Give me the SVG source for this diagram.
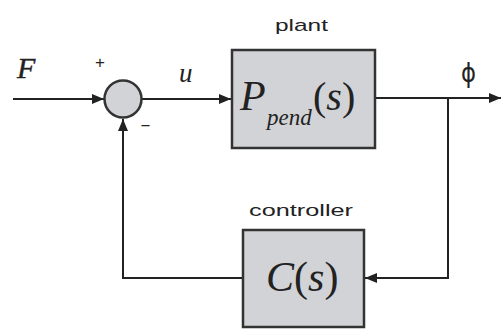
<svg xmlns="http://www.w3.org/2000/svg" width="501" height="329" viewBox="0 0 501 329">
<defs>
<style>
.blk{fill:#d2d3d6;stroke:#333;stroke-width:2.5}
.ln{fill:none;stroke:#222;stroke-width:2}
.lab{font-family:"Liberation Sans",Arial,sans-serif;font-size:17px;fill:#222}
.math{font-family:"Liberation Serif","Times New Roman",serif;font-style:italic;fill:#222}
.up{font-style:normal}
</style>
<marker id="ah" viewBox="0 0 12 10" refX="12" refY="5" markerWidth="12" markerHeight="10" markerUnits="userSpaceOnUse" orient="auto">
<path d="M0,0 L12,5 L0,10 z" fill="#222"/>
</marker>
</defs>
<rect width="501" height="329" fill="#fff"/>
<g id="connectors">
<line class="ln" x1="13" y1="99" x2="104" y2="99" marker-end="url(#ah)"/>
<line class="ln" x1="142" y1="99" x2="231" y2="99" marker-end="url(#ah)"/>
<line class="ln" x1="376" y1="98" x2="501" y2="98" marker-end="url(#ah)"/>
<polyline class="ln" points="448,98 448,278 365,278" marker-end="url(#ah)"/>
<polyline class="ln" points="243,278 123,278 123,119" marker-end="url(#ah)"/>
</g>
<g id="input">
<text class="math" x="17" y="78" font-size="30" stroke="#222" stroke-width="0.4">F</text>
</g>
<g id="sum">
<circle cx="123" cy="99" r="18.5" fill="#d2d3d6" stroke="#333" stroke-width="2.5"/>
<text class="lab" x="95" y="68" font-size="18">+</text>
<text class="lab" x="140" y="130" font-size="18" textLength="11" lengthAdjust="spacingAndGlyphs">-</text>
</g>
<g id="u-label">
<text class="math" x="179" y="82" font-size="27">u</text>
</g>
<g id="plant">
<text class="lab" x="275" y="31" font-size="20" textLength="53" lengthAdjust="spacingAndGlyphs">plant</text>
<rect class="blk" x="232" y="50" width="143" height="98"/>
<text class="math" x="240" y="110" font-size="42">P</text>
<text class="math" x="267" y="125" font-size="23">pend</text>
<text class="math" x="313" y="110" font-size="40"><tspan class="up">(</tspan>s<tspan class="up">)</tspan></text>
</g>
<g id="phi">
<text x="461" y="82" font-family="DejaVu Sans,sans-serif" font-size="27" fill="#222" textLength="15" lengthAdjust="spacingAndGlyphs">ϕ</text>
</g>
<g id="controller">
<text class="lab" x="249" y="216" font-size="20" textLength="104" lengthAdjust="spacingAndGlyphs">controller</text>
<rect class="blk" x="243" y="230" width="121" height="97"/>
<text class="math" x="266" y="291" font-size="42">C<tspan class="up">(</tspan>s<tspan class="up">)</tspan></text>
</g>
</svg>
